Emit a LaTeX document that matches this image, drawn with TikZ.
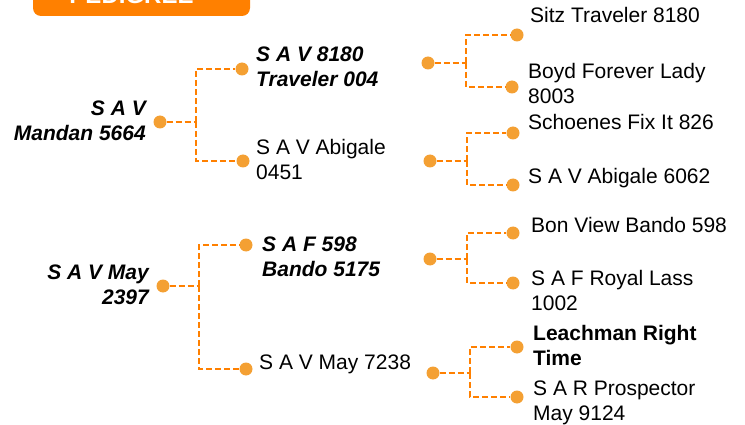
\documentclass[tikz,border=0pt]{standalone}
\usepackage{fontspec}
\setmainfont{Liberation Sans}
\definecolor{dotorange}{HTML}{F4A033}
\definecolor{lineorange}{HTML}{FF8000}
\definecolor{banner}{HTML}{FF8000}
\tikzset{
  dot/.style={circle, fill=dotorange, minimum size=13pt, inner sep=0pt},
  link/.style={lineorange, line width=2.8pt, dash pattern=on 6pt off 3pt},
  lbl/.style={inner sep=0pt, align=left, font=\fontsize{21}{25}\selectfont, anchor=base west},
  rlbl/.style={inner sep=0pt, align=right, font=\fontsize{21}{25}\selectfont\bfseries\itshape, anchor=base east},
  blbl/.style={lbl, font=\fontsize{21}{25}\selectfont\bfseries\itshape},
  bold/.style={lbl, font=\fontsize{21}{25}\selectfont\bfseries}
}
\begin{document}
\begin{tikzpicture}[x=1pt,y=-1pt]
\useasboundingbox (0,0) rectangle (745,425);
\clip (0,0) rectangle (745,425);
% banner
\fill[banner, rounded corners=8pt] (33,-30) rectangle (250,16);
\node[inner sep=0pt, anchor=base, text=white, font=\fontsize{24}{28}\selectfont\bfseries] (title) at (131.5,4) {PEDIGREE};

% generation 1 (base anchor = last line)
\node[dot] (g1a) at (160,122) {};
\node[dot] (g1b) at (163,286) {};
\node[rlbl] (t1a) at (146,140.5) {S A V\\Mandan 5664};
\node[rlbl] (t1b) at (149,304.5) {S A V May\\2397};

% generation 2
\node[dot] (g2a) at (242,69) {};
\node[dot] (g2b) at (243,161) {};
\node[dot] (g2c) at (246,245) {};
\node[dot] (g2d) at (246,369) {};
\node[blbl] (t2a) at (256,87) {S A V 8180\\Traveler 004};
\node[lbl] (t2b) at (256,180) {S A V Abigale\\0451};
\node[blbl] (t2c) at (262,276.5) {S A F 598\\Bando 5175};
\node[lbl] (t2d) at (259,369.5) {S A V May 7238};

% generation 2 (right) dots
\node[dot] (p2a) at (428,63) {};
\node[dot] (p2b) at (430,161) {};
\node[dot] (p2c) at (430,259) {};
\node[dot] (p2d) at (433,373) {};

% generation 3
\node[dot] (g3a) at (517,35) {};
\node[dot] (g3b) at (512,87) {};
\node[dot] (g3c) at (513,133) {};
\node[dot] (g3d) at (513,185) {};
\node[dot] (g3e) at (513,233) {};
\node[dot] (g3f) at (513,283) {};
\node[dot] (g3g) at (517,347) {};
\node[dot] (g3h) at (517,397) {};
\node[lbl] (t3a) at (530,23) {Sitz Traveler 8180};
\node[lbl] (t3b) at (528,103.5) {Boyd Forever Lady\\8003};
\node[lbl] (t3c) at (528,129.5) {Schoenes Fix It 826};
\node[lbl] (t3d) at (528,183.5) {S A V Abigale 6062};
\node[lbl] (t3e) at (531,232.5) {Bon View Bando 598};
\node[lbl] (t3f) at (531,310.5) {S A F Royal Lass\\1002};
\node[bold] (t3g) at (533,365.5) {Leachman Right\\Time};
\node[lbl] (t3h) at (533,420) {S A R Prospector\\May 9124};

% brackets
\coordinate (v1) at (196,122);
\draw[link] (g1a) -- (v1);
\draw[link] (v1) |- (g2a);
\draw[link] (v1) |- (g2b);

\coordinate (v2) at (199,286);
\draw[link] (g1b) -- (v2);
\draw[link] (v2) |- (g2c);
\draw[link] (v2) |- (g2d);

\coordinate (v3) at (466,63);
\draw[link] (p2a) -- (v3);
\draw[link] (v3) |- (g3a);
\draw[link] (v3) |- (g3b);

\coordinate (v4) at (467,161);
\draw[link] (p2b) -- (v4);
\draw[link] (v4) |- (g3c);
\draw[link] (v4) |- (g3d);

\coordinate (v5) at (467,259);
\draw[link] (p2c) -- (v5);
\draw[link] (v5) |- (g3e);
\draw[link] (v5) |- (g3f);

\coordinate (v6) at (470,373);
\draw[link] (p2d) -- (v6);
\draw[link] (v6) |- (g3g);
\draw[link] (v6) |- (g3h);
\end{tikzpicture}
\end{document}
